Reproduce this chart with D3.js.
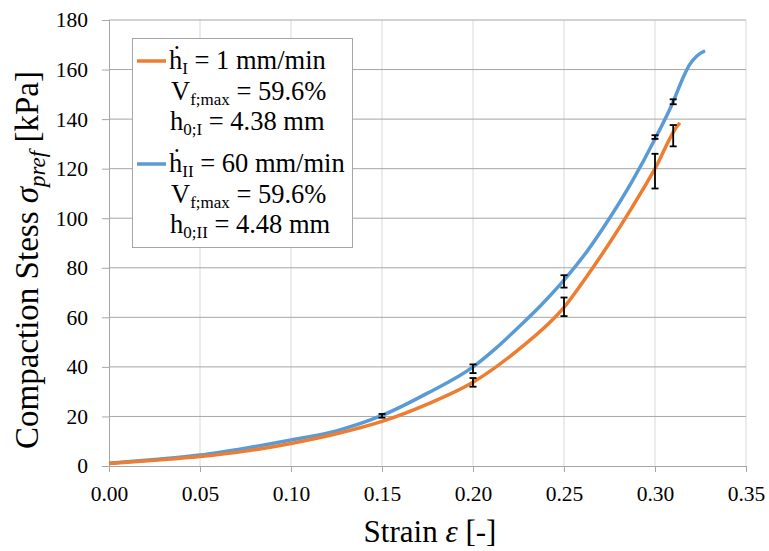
<!DOCTYPE html>
<html>
<head>
<meta charset="utf-8">
<script src="https://cdn.jsdelivr.net/npm/d3@7"></script>
<style>
  body { margin: 0; background: #fff; }
</style>
</head>
<body>
<div id="chart"></div>
<script>
// strain / stress curves
var slowStrain = [0, 0.025, 0.05, 0.075, 0.10, 0.125, 0.15, 0.175, 0.20, 0.225, 0.25, 0.2625, 0.275, 0.2875, 0.30, 0.3125, 0.3137];
var slowStress = [1.0, 2.3, 3.8, 6.0, 9.1, 13.0, 18.0, 25.0, 33.8, 47.0, 64.0, 76.5, 90, 104.5, 120, 137.5, 138.5];

var fastStrain = [0, 0.025, 0.05, 0.075, 0.10, 0.125, 0.15, 0.175, 0.20, 0.2125, 0.225, 0.2375, 0.25, 0.2625, 0.275, 0.2875, 0.30, 0.31, 0.315, 0.319, 0.323, 0.3275];
var fastStress = [1.1, 2.6, 4.4, 7.2, 10.5, 14.2, 20.4, 29.4, 40.0, 47.5, 56, 65, 75, 86.5, 100, 115, 132, 147, 156, 162, 165.5, 167.6];

// error bars: strain, low, high
var slowErrX = [0.20, 0.25, 0.30, 0.31];
var slowErrLo = [32, 60.5, 112, 129];
var slowErrHi = [35.5, 68, 126, 137.6];

var fastErrX = [0.15, 0.20, 0.25, 0.30, 0.31];
var fastErrLo = [19.5, 37.5, 72, 132, 146];
var fastErrHi = [21, 41, 77, 133.5, 148];

var xTicks = [0, 0.05, 0.10, 0.15, 0.20, 0.25, 0.30, 0.35];
var yTicks = [0, 20, 40, 60, 80, 100, 120, 140, 160, 180];

var FONT = 'Liberation Serif';
var W = 769, H = 551;
var svg = d3.select('#chart').append('svg')
    .attr('width', W)
    .attr('height', H)
    .append('g')
    .attr('font-family', FONT);

var x = d3.scaleLinear().domain([0, 0.35]).range([109, 746]);
var y = d3.scaleLinear().domain([0, 180]).range([466, 20]);

// grid
svg.append('g').selectAll('line.vg')
    .data(xTicks.slice(1))
    .enter().append('line')
    .attr('x1', function (d) { return x(d); })
    .attr('x2', function (d) { return x(d); })
    .attr('y1', y(180)).attr('y2', y(0))
    .attr('stroke', '#d9d9d9').attr('stroke-width', 1);

svg.append('g').selectAll('line.hg')
    .data(yTicks.slice(1))
    .enter().append('line')
    .attr('x1', x(0)).attr('x2', x(0.35))
    .attr('y1', function (d) { return y(d); })
    .attr('y2', function (d) { return y(d); })
    .attr('stroke', '#a6a6a6').attr('stroke-width', 1);

// axes
var xAxis = svg.append('g')
    .attr('transform', 'translate(0,' + y(0) + ')')
    .call(d3.axisBottom(x).tickValues(xTicks).tickFormat(d3.format('.2f')).tickSize(6).tickPadding(14));
var yAxis = svg.append('g')
    .attr('transform', 'translate(' + x(0) + ',0)')
    .call(d3.axisLeft(y).tickValues(yTicks).tickSize(7).tickPadding(14));

[xAxis, yAxis].forEach(function (a) {
    a.attr('font-family', FONT).attr('font-size', 21.5);
    a.select('.domain').attr('stroke', '#a6a6a6');
    a.selectAll('.tick line').attr('stroke', '#a6a6a6');
    a.selectAll('.tick text').attr('fill', '#000').attr('font-family', FONT).attr('font-size', 21.5);
});

// curves
var line = d3.line()
    .x(function (d) { return x(d[0]); })
    .y(function (d) { return y(d[1]); })
    .curve(d3.curveMonotoneX);

var slow = slowStrain.map(function (s, i) { return [s, slowStress[i]]; });
var fast = fastStrain.map(function (s, i) { return [s, fastStress[i]]; });

svg.append('path').datum(fast)
    .attr('d', line).attr('fill', 'none')
    .attr('stroke', '#5B9BD5').attr('stroke-width', 3.5);
svg.append('path').datum(slow)
    .attr('d', line).attr('fill', 'none')
    .attr('stroke', '#ED7D31').attr('stroke-width', 3.5);

// error bars
function errorBars(xs, lo, hi) {
    var g = svg.append('g').attr('stroke', '#000').attr('stroke-width', 1.8);
    xs.forEach(function (s, i) {
        g.append('line').attr('x1', x(s)).attr('x2', x(s)).attr('y1', y(lo[i])).attr('y2', y(hi[i]));
        g.append('line').attr('x1', x(s) - 3.5).attr('x2', x(s) + 3.5).attr('y1', y(lo[i])).attr('y2', y(lo[i]));
        g.append('line').attr('x1', x(s) - 3.5).attr('x2', x(s) + 3.5).attr('y1', y(hi[i])).attr('y2', y(hi[i]));
    });
}
errorBars(fastErrX, fastErrLo, fastErrHi);
errorBars(slowErrX, slowErrLo, slowErrHi);

// rich text as separate <text> runs placed one after another
// runs: [string, size, baseline offset, italic]
function richText(parent, px, py, runs, middle) {
    var g = parent.append('g');
    var cursor = 0;
    runs.forEach(function (r) {
        var t = g.append('text')
            .attr('x', cursor).attr('y', r[2] || 0)
            .attr('font-family', FONT).attr('font-size', r[1])
            .attr('fill', '#000')
            .text(r[0].replace(/ /g, '\u00A0'));
        if (r[3]) t.attr('font-style', 'italic');
        cursor += t.node().getComputedTextLength();
    });
    var shift = middle ? -cursor / 2 : 0;
    g.attr('transform', 'translate(' + (px + shift) + ',' + py + ')');
    return g;
}

// legend
var leg = svg.append('g');
leg.append('rect')
    .attr('x', 132.5).attr('y', 38.5).attr('width', 220).attr('height', 209)
    .attr('fill', '#fff').attr('stroke', '#a6a6a6');

var LF = 26.5, SF = 17;
var legendRows = [
    { color: '#ED7D31', base: 69, sub: 'I', rate: ' = 1 mm/min', vf: '59.6%', h0: 'I', h0v: ' = 4.38 mm' },
    { color: '#5B9BD5', base: 172, sub: 'II', rate: ' = 60 mm/min', vf: '59.6%', h0: 'II', h0v: ' = 4.48 mm' }
];

legendRows.forEach(function (r) {
    leg.append('line')
        .attr('x1', 137).attr('x2', 166)
        .attr('y1', r.base - 8).attr('y2', r.base - 8)
        .attr('stroke', r.color).attr('stroke-width', 3.5);

    richText(leg, 169, r.base, [['\u1E23', LF], [r.sub, SF, 5], [r.rate, LF]]);
    richText(leg, 171, r.base + 31, [['V', LF], ['f;max', SF, 5], [' = ' + r.vf, LF]]);
    richText(leg, 170, r.base + 61, [['h', LF], ['0;' + r.h0, SF, 5], [r.h0v, LF]]);
});

// axis titles
richText(svg, 430, 542, [['Strain ', 31], ['\u03B5', 31, 0, true], [' [-]', 31]], true);

var ytG = svg.append('g').attr('transform', 'translate(38,260) rotate(-90)');
richText(ytG, 0, 0, [['Compaction Stess ', 33], ['\u03C3', 33, 0, true], ['pref', 23, 7, true], [' [kPa]', 33]], true);
</script>
</body>
</html>
